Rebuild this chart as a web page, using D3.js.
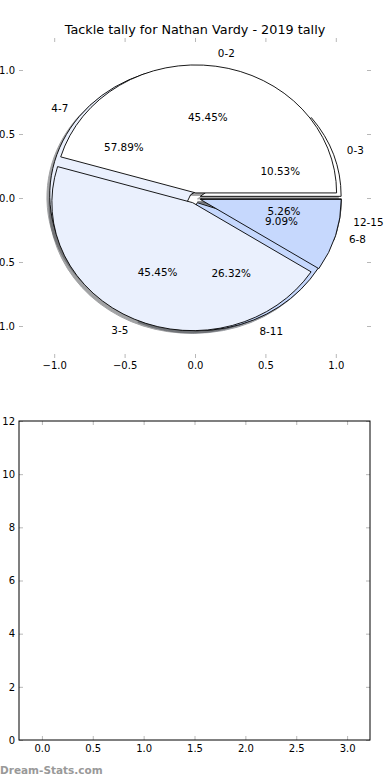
<!DOCTYPE html>
<html>
<head>
<meta charset="utf-8">
<script src="https://cdn.jsdelivr.net/npm/d3@7"></script>
<style>
  body { margin: 0; background: #fff; }
  svg text { font-family: "DejaVu Sans", sans-serif; }
</style>
</head>
<body>
<div id="wrapper"></div>
<script>
// pie drawn on top
const innerLabels = ["0-2", "3-5", "6-8"];
const innerValues = [5, 5, 1];
// pie drawn underneath
const outerLabels = ["0-3", "4-7", "8-11", "12-15"];
const outerValues = [2, 11, 5, 1];

const pieColors = ["#ffffff", "#eaf0fd", "#c6d8fd"];
const pieTicks = [-1, -0.5, 0, 0.5, 1];
const barXTicks = [0, 0.5, 1, 1.5, 2, 2.5, 3];
const barYTicks = [0, 2, 4, 6, 8, 10, 12];

const title = "Tackle tally for Nathan Vardy - 2019 tally";
const explode = 0.04;

function drawChart() {
  const width = 390;
  const height = 780;

  const svg = d3
    .select("#wrapper")
    .append("svg")
    .attr("width", width)
    .attr("height", height);

  // 1. Top axes (pie)
  const xScale = d3.scaleLinear().domain([-1.25, 1.25]).range([19, 371]);
  const yScale = d3.scaleLinear().domain([-1.25, 1.25]).range([358, 38]);
  const rx = xScale(1) - xScale(0);
  const ry = yScale(0) - yScale(1);

  // wedge in data space, counter-clockwise from east, like matplotlib
  const wedgePath = (a0, a1, cx, cy) => {
    const p0 = [xScale(cx + Math.cos(a0)), yScale(cy + Math.sin(a0))];
    const p1 = [xScale(cx + Math.cos(a1)), yScale(cy + Math.sin(a1))];
    const large = a1 - a0 > Math.PI ? 1 : 0;
    return `M${xScale(cx)},${yScale(cy)}L${p0[0]},${p0[1]}A${rx},${ry} 0 ${large} 0 ${p1[0]},${p1[1]}Z`;
  };

  const pieGen = d3.pie().sort(null).startAngle(0).endAngle(2 * Math.PI);
  const pct = d3.format(".2f");

  const buildPie = (labels, values) => {
    const total = d3.sum(values);
    return pieGen(values).map((d, i) => {
      const mid = (d.startAngle + d.endAngle) / 2;
      return {
        label: labels[i],
        pct: pct((d.value / total) * 100) + "%",
        a0: d.startAngle,
        a1: d.endAngle,
        mid: mid,
        cx: explode * Math.cos(mid),
        cy: explode * Math.sin(mid),
        color: pieColors[i % pieColors.length],
      };
    });
  };

  const outerPie = buildPie(outerLabels, outerValues);
  const innerPie = buildPie(innerLabels, innerValues);
  const allWedges = outerPie.concat(innerPie);

  const pieG = svg.append("g");

  const shadowColor = (d) => {
    const c = d3.rgb(d.color);
    return d3.rgb(c.r * 0.3, c.g * 0.3, c.b * 0.3);
  };

  // shadows first
  pieG
    .selectAll(".shadow")
    .data(allWedges)
    .join("path")
    .attr("class", "shadow")
    .attr("d", (d) => wedgePath(d.a0, d.a1, d.cx - 0.02, d.cy - 0.02))
    .attr("fill", shadowColor)
    .attr("stroke", shadowColor)
    .attr("stroke-width", 1)
    .attr("opacity", 0.5);

  pieG
    .selectAll(".wedge")
    .data(allWedges)
    .join("path")
    .attr("class", "wedge")
    .attr("d", (d) => wedgePath(d.a0, d.a1, d.cx, d.cy))
    .attr("fill", (d) => d.color)
    .attr("stroke", "#000")
    .attr("stroke-width", 0.9)
    .attr("stroke-linejoin", "miter");

  // labels
  allWedges.forEach((d) => {
    const lx = d.cx + 1.1 * Math.cos(d.mid);
    const ly = d.cy + 1.1 * Math.sin(d.mid);
    pieG
      .append("text")
      .attr("x", xScale(lx))
      .attr("y", yScale(ly))
      .attr("dy", "0.35em")
      .attr("text-anchor", lx > 0 ? "start" : "end")
      .style("font-size", "10.4px")
      .text(d.label);
    pieG
      .append("text")
      .attr("x", xScale(d.cx + 0.6 * Math.cos(d.mid)))
      .attr("y", yScale(d.cy + 0.6 * Math.sin(d.mid)))
      .attr("dy", "0.35em")
      .attr("text-anchor", "middle")
      .style("font-size", "10.4px")
      .text(d.pct);
  });

  // axes (no spines, grey inward ticks)
  const tickFmt = d3.format(".1f");
  const styleAxis = (g, showLabels) => {
    g.select(".domain").remove();
    g.selectAll(".tick line").attr("stroke", "#b8b8b8").attr("stroke-width", 1);
    g.selectAll(".tick text")
      .attr("fill", "#000")
      .style("font-size", "10px")
      .style("font-family", "DejaVu Sans, sans-serif");
    if (!showLabels) g.selectAll(".tick text").remove();
  };

  svg
    .append("g")
    .attr("transform", `translate(0,${yScale.range()[0]})`)
    .call(d3.axisBottom(xScale).tickValues(pieTicks).tickFormat(tickFmt).tickSizeInner(-4).tickSizeOuter(0).tickPadding(4))
    .call((g) => styleAxis(g, true));
  svg
    .append("g")
    .attr("transform", `translate(0,${yScale.range()[1]})`)
    .call(d3.axisTop(xScale).tickValues(pieTicks).tickSizeInner(-4).tickSizeOuter(0))
    .call((g) => styleAxis(g, false));
  svg
    .append("g")
    .attr("transform", `translate(${xScale.range()[0]},0)`)
    .call(d3.axisLeft(yScale).tickValues(pieTicks).tickFormat(tickFmt).tickSizeInner(-4).tickSizeOuter(0).tickPadding(4))
    .call((g) => styleAxis(g, true));
  svg
    .append("g")
    .attr("transform", `translate(${xScale.range()[1]},0)`)
    .call(d3.axisRight(yScale).tickValues(pieTicks).tickSizeInner(-4).tickSizeOuter(0))
    .call((g) => styleAxis(g, false));

  svg
    .append("text")
    .attr("x", 195)
    .attr("y", 34)
    .attr("text-anchor", "middle")
    .style("font-size", "12.8px")
    .text(title);

  // 2. Bottom axes (empty)
  const x2 = d3.scaleLinear().domain([-0.225, 3.225]).range([19, 370]);
  const y2 = d3.scaleLinear().domain([0, 12]).range([740, 421]);

  svg
    .append("g")
    .attr("transform", `translate(0,${y2.range()[0]})`)
    .call(d3.axisBottom(x2).tickValues(barXTicks).tickFormat(tickFmt).tickSizeInner(-4).tickSizeOuter(0).tickPadding(5))
    .call((g) => styleAxis(g, true));
  svg
    .append("g")
    .attr("transform", `translate(0,${y2.range()[1]})`)
    .call(d3.axisTop(x2).tickValues(barXTicks).tickSizeInner(-4).tickSizeOuter(0))
    .call((g) => styleAxis(g, false));
  svg
    .append("g")
    .attr("transform", `translate(${x2.range()[0]},0)`)
    .call(d3.axisLeft(y2).tickValues(barYTicks).tickFormat(d3.format("d")).tickSizeInner(-4).tickSizeOuter(0).tickPadding(4))
    .call((g) => styleAxis(g, true));
  svg
    .append("g")
    .attr("transform", `translate(${x2.range()[1]},0)`)
    .call(d3.axisRight(y2).tickValues(barYTicks).tickSizeInner(-4).tickSizeOuter(0))
    .call((g) => styleAxis(g, false));

  svg
    .append("rect")
    .attr("x", x2.range()[0])
    .attr("y", y2.range()[1])
    .attr("width", x2.range()[1] - x2.range()[0])
    .attr("height", y2.range()[0] - y2.range()[1])
    .attr("fill", "none")
    .attr("stroke", "#000")
    .attr("stroke-width", 1);

  // watermark
  svg
    .append("text")
    .attr("x", 0)
    .attr("y", 774)
    .style("font-size", "10.5px")
    .style("font-weight", "bold")
    .attr("fill", "#999")
    .text("Dream-Stats.com");
}

drawChart();
</script>
</body>
</html>
